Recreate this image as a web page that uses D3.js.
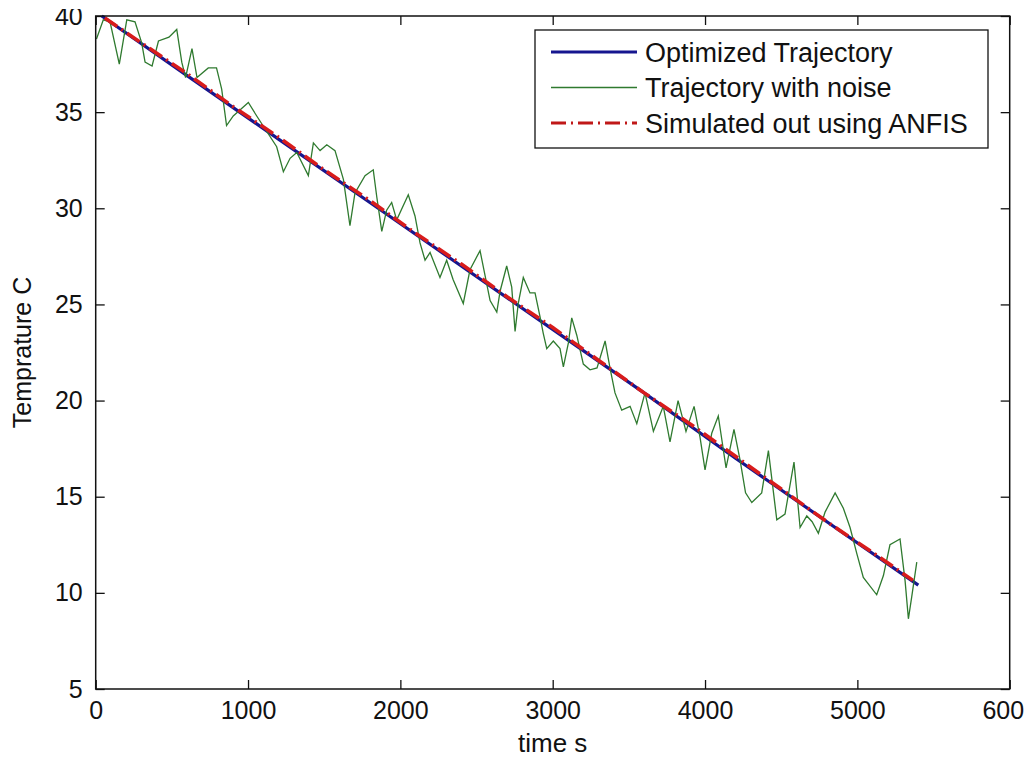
<!DOCTYPE html>
<html><head><meta charset="utf-8">
<script src="https://cdn.jsdelivr.net/npm/d3@7"></script>
<style>
html,body{margin:0;padding:0;background:#fff;}
svg{display:block;}
text{font-family:"Liberation Sans",Arial,sans-serif;fill:#111;}
</style></head>
<body>
<svg id="chart" width="1024" height="758"></svg>
<script>
// ---------- data ----------
const xTicks = [0,1000,2000,3000,4000,5000,6000];
const yTicks = [5,10,15,20,25,30,35,40];
const seriesNames = ["Optimized Trajectory","Trajectory with noise","Simulated out using ANFIS"];

// Optimized trajectory
const optTime = [40,600,1200,1800,2400,3000,3600,4200,4800,5400];
const optTemp = [40.0,36.9,33.6,30.3,27.0,23.7,20.4,17.0,13.7,10.4];

// Simulated output using ANFIS
const anfisTime = [60,300,600,900,1200,1500,1800,2100,2400,2700,3000,3300,3600,3900,4200,4500,4800,5100,5365];
const anfisTemp = [39.9,38.6,37.0,35.3,33.7,32.0,30.4,28.7,27.1,25.4,23.8,22.1,20.4,18.8,17.1,15.4,13.7,12.1,10.65];

// Trajectory with noise
const noiseTime = [5,50,94,155,204,258,302,324,370,412,481,532,565,590,632,665,739,793,827,859,
  903,1002,1057,1188,1232,1276,1320,1396,1429,1473,1517,1571,1626,1669,1702,1768,1822,1845,1878,1910,
  1943,1976,2052,2096,2129,2162,2195,2260,2304,2346,2413,2457,2523,2589,2633,2655,2698,2731,2753,2774,
  2807,2851,2884,2917,2938,2961,3004,3048,3070,3103,3125,3158,3201,3245,3291,3344,3376,3409,3453,3508,
  3552,3606,3661,3726,3770,3823,3875,3928,3967,4000,4044,4087,4138,4190,4230,4266,4307,4372,4416,4471,
  4525,4584,4624,4668,4703,4744,4788,4854,4908,4952,4996,5039,5127,5171,5214,5280,5313,5335,5357,5390];
const noiseTemp = [38.8,39.8,39.7,37.5,39.8,39.7,38.6,37.6,37.4,38.7,38.9,39.3,37.6,36.8,38.3,36.8,37.3,37.3,36.2,34.3,
  34.8,35.5,34.8,33.2,31.9,32.6,32.9,31.7,33.4,33.0,33.3,33.0,31.5,29.1,30.8,31.7,32.0,30.6,28.8,29.9,
  30.3,29.4,30.7,29.6,28.2,27.3,27.7,26.4,27.3,26.3,25.05,26.8,27.8,25.2,24.6,25.7,27.0,25.9,23.6,25.05,
  26.4,25.6,25.6,24.35,23.5,22.7,23.1,22.7,21.75,23.0,24.3,23.4,21.9,21.6,21.7,23.1,21.7,20.4,19.5,19.7,
  18.8,20.4,18.4,19.7,17.85,20.0,18.4,19.7,18.1,16.4,18.3,19.2,16.5,18.5,16.9,15.2,14.7,15.2,17.4,13.8,
  14.1,16.8,13.4,14.0,13.7,13.1,14.2,15.2,14.4,13.4,12.05,10.8,9.9,10.9,12.5,12.8,10.65,8.65,9.8,11.6];

// ---------- layout ----------
const L = 95.7, R = 1009.7, T = 16, B = 689;
const svg = d3.select("#chart");
const x = d3.scaleLinear().domain([0,6000]).range([L,R]);
const y = d3.scaleLinear().domain([5,40]).range([B,T]);

const fs = 25;
const tickLen = 9;
const fmt = d3.format("d");

// axes
const gB = svg.append("g").attr("transform",`translate(0,${B})`)
  .call(d3.axisBottom(x).tickValues(xTicks).tickFormat(fmt).tickSizeInner(-tickLen).tickSizeOuter(0).tickPadding(12));
const gL = svg.append("g").attr("transform",`translate(${L},0)`)
  .call(d3.axisLeft(y).tickValues(yTicks).tickFormat(fmt).tickSizeInner(-tickLen).tickSizeOuter(0).tickPadding(13));
const gT = svg.append("g").attr("transform",`translate(0,${T})`)
  .call(d3.axisTop(x).tickValues(xTicks).tickSizeInner(-tickLen).tickSizeOuter(0).tickFormat(""));
const gR = svg.append("g").attr("transform",`translate(${R},0)`)
  .call(d3.axisRight(y).tickValues(yTicks).tickSizeInner(-tickLen).tickSizeOuter(0).tickFormat(""));
[gB,gL,gT,gR].forEach(g=>{
  g.select(".domain").remove();
  g.selectAll("line").attr("stroke","#111").attr("stroke-width",1.3);
  g.selectAll("text").attr("font-size",fs).attr("font-family","Liberation Sans, Arial, sans-serif").attr("fill","#111");
});

// lines
const line = d3.line().x(d=>x(d[0])).y(d=>y(d[1]));
const optData = optTime.map((t,i)=>[t,optTemp[i]]);
const noiseData = noiseTime.map((t,i)=>[t,noiseTemp[i]]);
const anfisData = anfisTime.map((t,i)=>[t,anfisTemp[i]]);

const colBlue = "#16168f", colGreen = "#2f7a2f", colRed = "#d81c1c";

svg.append("path").datum(optData).attr("d",line)
  .attr("fill","none").attr("stroke",colBlue).attr("stroke-width",3.2);
svg.append("path").datum(noiseData).attr("d",line)
  .attr("fill","none").attr("stroke",colGreen).attr("stroke-width",1.3).attr("stroke-linejoin","miter");
svg.append("path").datum(anfisData).attr("d",line)
  .attr("fill","none").attr("stroke",colRed).attr("stroke-width",3.6)
  .attr("stroke-dasharray","15,5,2,5");

// frame
svg.append("rect").attr("x",L).attr("y",T).attr("width",R-L).attr("height",B-T)
  .attr("fill","none").attr("stroke","#111").attr("stroke-width",1.5);

// axis labels
svg.append("text").attr("x",(L+R)/2).attr("y",752).attr("text-anchor","middle")
  .attr("font-size",26).text("time s");
svg.append("text").attr("transform",`translate(31,${(T+B)/2}) rotate(-90)`).attr("text-anchor","middle")
  .attr("font-size",25).text("Temprature C");

// legend
const lg = svg.append("g");
lg.append("rect").attr("x",535).attr("y",30).attr("width",453).attr("height",118)
  .attr("fill","#fff").attr("stroke","#111").attr("stroke-width",1.3);
const rows = [
  {c:colBlue, w:3.2, dash:null},
  {c:colGreen, w:1.3, dash:null},
  {c:"#c01818", w:3.2, dash:"15,5,2,5"}
];
rows.forEach((r,i)=>{
  const yy = 52 + i*35.5;
  lg.append("line").attr("x1",551).attr("x2",637).attr("y1",yy).attr("y2",yy)
    .attr("stroke",r.c).attr("stroke-width",r.w).attr("stroke-dasharray",r.dash);
  lg.append("text").attr("x",645).attr("y",yy).attr("dy","0.36em")
    .attr("font-size",27).text(seriesNames[i]);
});

// top crop of "40" label like the reference
svg.append("rect").attr("x",0).attr("y",0).attr("width",92).attr("height",9).attr("fill","#fff");
</script>
</body></html>
